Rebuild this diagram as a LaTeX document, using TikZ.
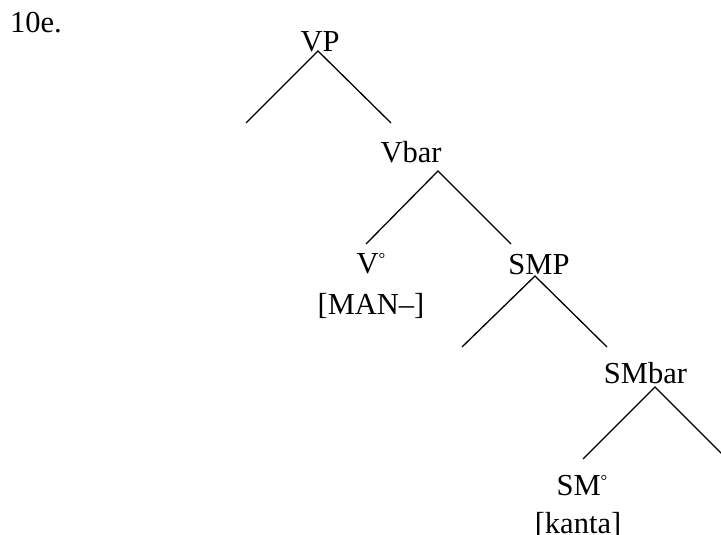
\documentclass[tikz,border=0pt]{standalone}
\usepackage{fontspec}
\setmainfont{Liberation Serif}
\newcommand{\smalldeg}{\raisebox{0.29em}{\scalebox{0.55}{°}}}
\begin{document}
\begin{tikzpicture}[x=1pt,y=-1pt,
  lbl/.style={anchor=base,inner sep=0pt,font=\fontsize{30.5}{36}\selectfont},
  branch/.style={line width=1.3pt}]
\useasboundingbox (0,0) rectangle (721,535);
% labels
\node[lbl,anchor=base west] (ex) at (10,33) {10e.};
\node[lbl] (vp) at (320,52) {VP};
\node[lbl] (vbar) at (411,162.5) {Vbar};
\node[lbl] (v0) at (371,273) {V\smalldeg};
\node[lbl] (man) at (371,314) {[MAN–]};
\node[lbl] (smp) at (539,274) {SMP};
\node[lbl] (smbar) at (645.5,383) {SMbar};
\node[lbl] (sm0) at (582,495) {SM\smalldeg};
\node[lbl] (kanta) at (578,533) {[kanta]};
% branch points
\coordinate (vpA) at (318,51);
\coordinate (vpL) at (246,123);
\coordinate (vpR) at (391,123);
\coordinate (vbarA) at (438,171);
\coordinate (vbarL) at (366,244);
\coordinate (vbarR) at (511,244);
\coordinate (smpA) at (535,276);
\coordinate (smpL) at (462,347);
\coordinate (smpR) at (607,347);
\coordinate (smbarA) at (655,387);
\coordinate (smbarL) at (583,459);
\coordinate (smbarR) at (723,455);
% branches
\draw[branch] (vpL) -- (vpA) -- (vpR);
\draw[branch] (vbarL) -- (vbarA) -- (vbarR);
\draw[branch] (smpL) -- (smpA) -- (smpR);
\draw[branch] (smbarL) -- (smbarA) -- (smbarR);
\end{tikzpicture}
\end{document}
